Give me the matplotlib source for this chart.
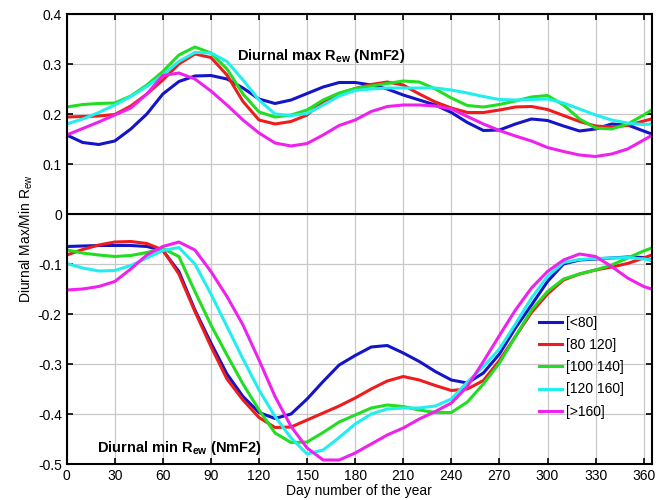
import numpy as np
import matplotlib
matplotlib.use('Agg')
import matplotlib.pyplot as plt

plt.rcParams['font.family'] = ['Liberation Sans', 'DejaVu Sans']
plt.rcParams['mathtext.fontset'] = 'custom'
plt.rcParams['mathtext.rm'] = 'Liberation Sans'
plt.rcParams['mathtext.it'] = 'Liberation Sans:italic'
plt.rcParams['mathtext.bf'] = 'Liberation Sans:bold'

# 年积日 (采样点)
days = [0, 10, 20, 30, 40, 50, 60, 70, 80, 90, 100, 110, 120, 130, 140, 150, 160, 170, 180,
        190, 200, 210, 220, 230, 240, 250, 260, 270, 280, 290, 300, 310, 320, 330, 340, 350, 360, 365]

labels = ['[<80]', '[80 120]', '[100 140]', '[120 160]', '[>160]']
colors = ['#1414c8', '#ee1c1c', '#22dd22', '#22eeee', '#ee22ee']

# 日最大 R_ew
blue_max = [0.158, 0.143, 0.139, 0.146, 0.170, 0.200, 0.240, 0.265, 0.276, 0.277, 0.270, 0.252, 0.230,
            0.221, 0.228, 0.241, 0.254, 0.263, 0.263, 0.258, 0.250, 0.238, 0.228, 0.218, 0.203, 0.183,
            0.167, 0.168, 0.180, 0.190, 0.187, 0.176, 0.166, 0.170, 0.180, 0.178, 0.166, 0.160]
red_max = [0.194, 0.195, 0.196, 0.199, 0.216, 0.240, 0.268, 0.300, 0.320, 0.313, 0.278, 0.225, 0.188,
           0.180, 0.185, 0.198, 0.225, 0.240, 0.251, 0.259, 0.264, 0.258, 0.240, 0.224, 0.212, 0.203,
           0.203, 0.208, 0.214, 0.215, 0.209, 0.197, 0.185, 0.176, 0.174, 0.177, 0.186, 0.190]
green_max = [0.214, 0.219, 0.221, 0.222, 0.236, 0.258, 0.285, 0.318, 0.334, 0.322, 0.290, 0.240, 0.204,
             0.194, 0.198, 0.208, 0.228, 0.242, 0.251, 0.256, 0.261, 0.266, 0.264, 0.250, 0.232, 0.217,
             0.214, 0.219, 0.226, 0.234, 0.237, 0.218, 0.190, 0.172, 0.170, 0.180, 0.198, 0.208]
cyan_max = [0.180, 0.190, 0.203, 0.218, 0.235, 0.255, 0.278, 0.305, 0.323, 0.322, 0.305, 0.268, 0.228,
            0.200, 0.197, 0.201, 0.218, 0.236, 0.247, 0.250, 0.252, 0.252, 0.252, 0.252, 0.248, 0.242,
            0.235, 0.229, 0.228, 0.229, 0.230, 0.222, 0.210, 0.198, 0.188, 0.182, 0.179, 0.180]
magenta_max = [0.158, 0.171, 0.184, 0.198, 0.212, 0.240, 0.277, 0.282, 0.270, 0.246, 0.218, 0.188, 0.162,
               0.142, 0.136, 0.141, 0.158, 0.177, 0.188, 0.205, 0.215, 0.218, 0.218, 0.216, 0.210, 0.195,
               0.180, 0.167, 0.156, 0.146, 0.133, 0.125, 0.118, 0.115, 0.120, 0.130, 0.148, 0.157]

# 日最小 R_ew
blue_min = [-0.065, -0.064, -0.063, -0.063, -0.063, -0.065, -0.073, -0.115, -0.192, -0.258, -0.320, -0.365, -0.397,
            -0.409, -0.400, -0.370, -0.335, -0.302, -0.283, -0.266, -0.263, -0.278, -0.295, -0.315, -0.332, -0.338,
            -0.318, -0.280, -0.228, -0.182, -0.135, -0.100, -0.092, -0.090, -0.088, -0.086, -0.087, -0.093]
red_min = [-0.082, -0.071, -0.062, -0.056, -0.055, -0.059, -0.072, -0.120, -0.195, -0.265, -0.330, -0.372, -0.407,
           -0.427, -0.426, -0.412, -0.398, -0.384, -0.368, -0.350, -0.334, -0.325, -0.332, -0.343, -0.353, -0.350,
           -0.333, -0.293, -0.245, -0.197, -0.160, -0.132, -0.120, -0.112, -0.106, -0.099, -0.088, -0.082]
green_min = [-0.072, -0.078, -0.082, -0.085, -0.083, -0.077, -0.069, -0.085, -0.155, -0.222, -0.282, -0.340, -0.392,
             -0.438, -0.457, -0.456, -0.437, -0.416, -0.402, -0.388, -0.382, -0.385, -0.392, -0.397, -0.397, -0.376,
             -0.340, -0.298, -0.245, -0.192, -0.155, -0.130, -0.120, -0.112, -0.102, -0.088, -0.074, -0.068]
cyan_min = [-0.099, -0.108, -0.114, -0.113, -0.103, -0.088, -0.073, -0.067, -0.100, -0.160, -0.225, -0.290, -0.352,
            -0.405, -0.448, -0.480, -0.472, -0.447, -0.420, -0.400, -0.390, -0.388, -0.388, -0.384, -0.370, -0.336,
            -0.305, -0.270, -0.220, -0.168, -0.125, -0.097, -0.091, -0.089, -0.088, -0.087, -0.090, -0.092]
magenta_min = [-0.152, -0.150, -0.145, -0.135, -0.110, -0.082, -0.065, -0.056, -0.072, -0.115, -0.165, -0.222, -0.292,
               -0.365, -0.425, -0.468, -0.492, -0.492, -0.478, -0.460, -0.442, -0.428, -0.410, -0.395, -0.378, -0.345,
               -0.295, -0.243, -0.192, -0.148, -0.115, -0.092, -0.080, -0.085, -0.105, -0.128, -0.145, -0.150]

max_series = [blue_max, red_max, green_max, cyan_max, magenta_max]
min_series = [blue_min, red_min, green_min, cyan_min, magenta_min]

fig = plt.figure(figsize=(6.71, 5.00), dpi=100)
ax = fig.add_axes([0.0994, 0.072, 0.8718, 0.900])

for ymax, ymin, c, lab in zip(max_series, min_series, colors, labels):
    ax.plot(days, ymax, color=c, linewidth=2.2, solid_joinstyle='round')
    ax.plot(days, ymin, color=c, linewidth=2.2, solid_joinstyle='round', label=lab)

ax.axhline(0, color='k', linewidth=1.5)

ax.set_xlim(0, 365)
ax.set_ylim(-0.5, 0.4)
ax.set_xticks(np.arange(0, 361, 30))
ax.set_yticks([-0.5, -0.4, -0.3, -0.2, -0.1, 0, 0.1, 0.2, 0.3, 0.4])
ax.set_yticklabels(['-0.5', '-0.4', '-0.3', '-0.2', '-0.1', '0', '0.1', '0.2', '0.3', '0.4'])
ax.grid(True, color='#c8c8c8', linewidth=0.9)
ax.set_axisbelow(True)
ax.tick_params(direction='in', top=True, right=True, labelsize=10, length=4, width=1.2)
for s in ax.spines.values():
    s.set_linewidth(1.5)

ax.set_xlabel('Day number of the year', fontsize=10, labelpad=1)
ax.set_ylabel(r'Diurnal Max/Min R$_{\mathrm{ew}}$', fontsize=10, labelpad=2)

ax.text(106, 0.316, r'Diurnal max R$_{\mathbf{ew}}$ (NmF2)', fontsize=10.5, fontweight='bold', va='center')
ax.text(19, -0.468, r'Diurnal min R$_{\mathbf{ew}}$ (NmF2)', fontsize=10.5, fontweight='bold', va='center')

ax.legend(loc='upper left', bbox_to_anchor=(0.808, 0.33), frameon=False, fontsize=10,
          handlelength=1.6, handletextpad=0.3, labelspacing=0.6, borderaxespad=0, borderpad=0)

plt.savefig('out.png', dpi=100)
